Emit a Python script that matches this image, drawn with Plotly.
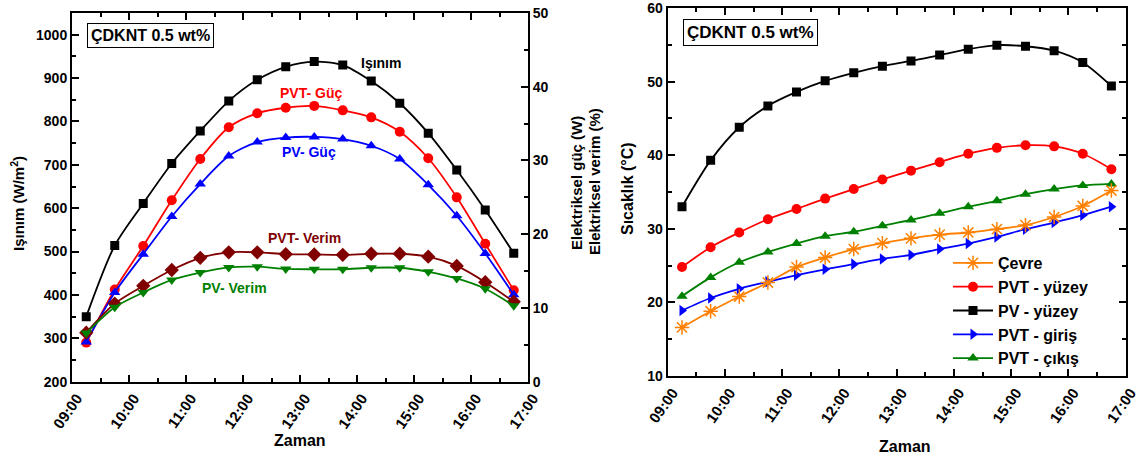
import plotly.graph_objects as go

# Measurement times (half-hour intervals)
times = ["09:15", "09:45", "10:15", "10:45", "11:15", "11:45", "12:15", "12:45",
         "13:15", "13:45", "14:15", "14:45", "15:15", "15:45", "16:15", "16:45"]

# Left panel: irradiance (W/m2) and electrical power (W) / efficiency (%)
isinim = [350, 514, 611, 703, 778, 847, 896, 926, 938, 930, 893, 842, 773, 688, 596, 496]
pvt_guc = [5.3, 12.5, 18.4, 24.6, 30.2, 34.5, 36.4, 37.15, 37.4, 36.8, 35.85, 33.9, 30.3, 25.0, 18.7, 12.4]
pv_guc = [5.4, 12.1, 17.3, 22.4, 26.8, 30.6, 32.5, 33.1, 33.2, 32.9, 32.0, 30.2, 26.7, 22.5, 17.4, 11.8]
pvt_verim = [6.65, 10.6, 13.0, 15.15, 16.8, 17.55, 17.55, 17.3, 17.25, 17.2, 17.35, 17.35, 16.95, 15.7, 13.5, 10.85]
pv_verim = [6.6, 10.1, 12.1, 13.8, 14.8, 15.5, 15.6, 15.3, 15.25, 15.25, 15.45, 15.45, 14.9, 14.0, 12.6, 10.3]

# Right panel: temperatures (°C)
cevre = [16.6, 18.8, 20.8, 22.7, 24.8, 26.1, 27.25, 28.05, 28.7, 29.2, 29.5, 29.95, 30.5, 31.6, 33.1, 35.2]
pvt_yuzey = [24.8, 27.5, 29.5, 31.3, 32.7, 34.1, 35.4, 36.7, 37.9, 39.05, 40.2, 41.0, 41.35, 41.2, 40.2, 38.1]
pv_yuzey = [33.0, 39.3, 43.8, 46.7, 48.6, 50.1, 51.2, 52.1, 52.8, 53.6, 54.4, 54.95, 54.8, 54.2, 52.6, 49.4]
pvt_giris = [18.9, 20.6, 21.85, 22.8, 23.7, 24.5, 25.2, 25.9, 26.45, 27.25, 28.0, 28.9, 29.95, 30.85, 31.85, 33.0]
pvt_cikis = [20.85, 23.4, 25.45, 26.85, 28.0, 29.0, 29.6, 30.4, 31.2, 32.1, 33.0, 33.8, 34.7, 35.4, 35.9, 36.1]

DAY = "2024-06-01 "
x = [DAY + t for t in times]
X_RANGE = [DAY + "09:00", DAY + "17:00"]

W, H = 1146, 459
FONT = "Liberation Sans, Arial, sans-serif"


def px(v):
    return v / W


def py(v):
    return 1 - v / H


def series(name, yvals, color, symbol, xaxis, yaxis, size=9, showlegend=False, mline=None):
    return go.Scatter(
        x=x, y=yvals, name=name, mode="lines+markers",
        line=dict(color=color, width=1.8, shape="spline", smoothing=0.8),
        marker=dict(symbol=symbol, size=size, color=color,
                    line=dict(color=color, width=mline if mline else 0)),
        xaxis=xaxis, yaxis=yaxis, showlegend=showlegend,
    )


fig = go.Figure()

# Left panel traces
fig.add_trace(series("Işınım", isinim, "#000000", "square", "x", "y"))
fig.add_trace(series("PVT- Güç", pvt_guc, "#FF0000", "circle", "x", "y2", size=10))
fig.add_trace(series("PV- Güç", pv_guc, "#0000FF", "triangle-up", "x", "y2", size=10))
fig.add_trace(series("PVT- Verim", pvt_verim, "#800000", "diamond", "x", "y2", size=11))
fig.add_trace(series("PV- Verim", pv_verim, "#008000", "triangle-down", "x", "y2", size=10))

# Right panel traces
fig.add_trace(series("PVT - çıkış", pvt_cikis, "#008000", "triangle-up", "x2", "y3", size=10, showlegend=True))
fig.add_trace(series("PVT - giriş", pvt_giris, "#0000FF", "triangle-right", "x2", "y3", size=10, showlegend=True))
fig.add_trace(series("PV - yüzey", pv_yuzey, "#000000", "square", "x2", "y3", showlegend=True))
fig.add_trace(series("PVT - yüzey", pvt_yuzey, "#FF0000", "circle", "x2", "y3", size=10, showlegend=True))
fig.add_trace(series("Çevre", cevre, "#FF8000", "asterisk-open", "x2", "y3", size=12, showlegend=True, mline=1.5))

axis_common = dict(
    showline=True, linecolor="black", linewidth=2,
    ticks="inside", ticklen=7, tickwidth=2, tickcolor="black",
    showgrid=False, zeroline=False, automargin=False, ticklabeloverflow="allow",
    tickfont=dict(family=FONT, size=14, color="black", weight="bold"),
)

xaxis_common = dict(
    axis_common, type="date", range=X_RANGE, tickformat="%H:%M",
    tick0=DAY + "09:00", dtick=3600000, tickangle=-55, mirror="ticks",
    ticklabelshift=5,
    tickfont=dict(family=FONT, size=15, color="black", weight="bold"),
    minor=dict(ticks="inside", ticklen=4, tickwidth=2, tickcolor="black",
               dtick=1800000, tick0=DAY + "09:00", showgrid=False),
)

L_X0, L_X1, L_YT, L_YB = 72, 528, 13, 381.7
R_X0, R_X1, R_YT, R_YB = 667.7, 1125.7, 8, 376

fig.update_layout(
    width=W, height=H,
    margin=dict(l=0, r=0, t=0, b=0, autoexpand=False),
    paper_bgcolor="white", plot_bgcolor="white",
    font=dict(family=FONT, size=14, color="black", weight="bold"),
    xaxis=dict(xaxis_common, domain=[px(L_X0), px(L_X1)], anchor="y"),
    yaxis=dict(axis_common, domain=[py(L_YB), py(L_YT)], anchor="x",
               range=[200, 1050], dtick=100, tick0=0,
               minor=dict(ticks="inside", ticklen=4, tickwidth=2, tickcolor="black", dtick=50, showgrid=False)),
    yaxis2=dict(axis_common, overlaying="y", side="right", anchor="x",
                range=[0, 50], dtick=10, tick0=0,
                minor=dict(ticks="inside", ticklen=4, tickwidth=2, tickcolor="black", dtick=5, showgrid=False)),
    xaxis2=dict(xaxis_common, domain=[px(R_X0), px(R_X1)], anchor="y3"),
    yaxis3=dict(axis_common, domain=[py(R_YB), py(R_YT)], anchor="x2",
                range=[10, 60], dtick=10, tick0=0, mirror="ticks",
                minor=dict(ticks="inside", ticklen=4, tickwidth=2, tickcolor="black", dtick=5, showgrid=False)),
    legend=dict(
        x=px(948), y=py(246), xanchor="left", yanchor="top",
        traceorder="reversed", bgcolor="rgba(0,0,0,0)",
        font=dict(family=FONT, size=16, color="black", weight="bold"),
        tracegroupgap=0, itemwidth=40,
    ),
)

annotations = [
    # curve labels, left panel
    dict(text="Işınım", x=px(381), y=py(63), color="#000000", size=14),
    dict(text="PVT- Güç", x=px(311), y=py(93), color="#FF0000", size=14),
    dict(text="PV- Güç", x=px(309), y=py(152), color="#0000FF", size=14),
    dict(text="PVT- Verim", x=px(304), y=py(238), color="#800000", size=14),
    dict(text="PV- Verim", x=px(234), y=py(288), color="#008000", size=14),
    # axis titles
    dict(text="Zaman", x=px(300), y=py(440), color="black", size=16),
    dict(text="Zaman", x=px(905), y=py(446), color="black", size=16),
    dict(text="Işınım (W/m<sup>2</sup>)", x=px(17), y=py(204), color="black", size=15, angle=-90),
    dict(text="Elektriksel güç (W)", x=px(576), y=py(183), color="black", size=15, angle=-90),
    dict(text="Elektriksel verim (%)", x=px(594), y=py(182), color="black", size=15, angle=-90),
    dict(text="Sıcaklık (°C)", x=px(627), y=py(189), color="black", size=16, angle=-90),
]
for a in annotations:
    fig.add_annotation(
        text=a["text"], x=a["x"], y=a["y"], xref="paper", yref="paper",
        xanchor="center", yanchor="middle", showarrow=False,
        textangle=a.get("angle", 0),
        font=dict(family=FONT, size=a["size"], color=a["color"], weight="bold"),
    )

# sample label boxes in both panels
for bx, by, fs in [((87 + 213) / 2, (24 + 47) / 2, 16), ((677 + 823) / 2, (19 + 45) / 2, 17)]:
    fig.add_annotation(
        text="ÇDKNT 0.5 wt%", x=px(bx), y=py(by), xref="paper", yref="paper",
        xanchor="center", yanchor="middle", showarrow=False,
        bordercolor="black", borderwidth=1, borderpad=3, bgcolor="white",
        font=dict(family=FONT, size=fs, color="black", weight="bold"),
    )

fig.write_html("out.html")
